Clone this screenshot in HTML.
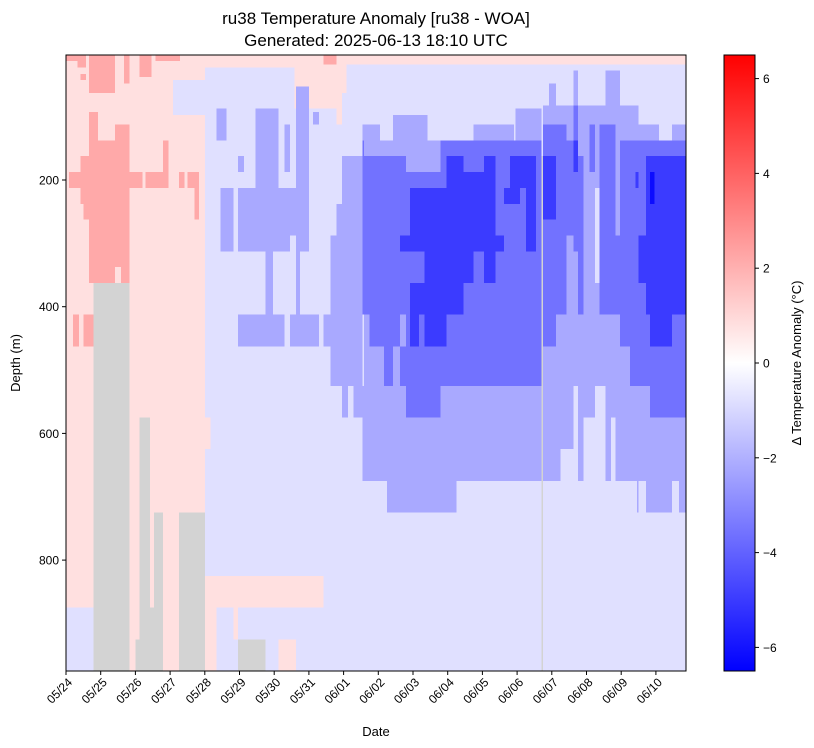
<!DOCTYPE html>
<html><head><meta charset="utf-8">
<style>
html,body{margin:0;padding:0;background:#fff;}
svg{display:block;font-family:"Liberation Sans","DejaVu Sans",sans-serif;}
</style></head>
<body>
<svg id="chart" width="814" height="748" viewBox="0 0 814 748">
<text x="376" y="24" text-anchor="middle" font-size="17">ru38 Temperature Anomaly [ru38 - WOA]</text>
<text x="376" y="46" text-anchor="middle" font-size="17">Generated: 2025-06-13 18:10 UTC</text>
<g id="cells"></g>
<rect x="66" y="55" width="620" height="616" fill="none" stroke="#000" stroke-width="1"/>
<g id="xaxis"></g>
<g id="yaxis"></g>
<text x="376" y="736" text-anchor="middle" font-size="13">Date</text>
<text transform="translate(20,363) rotate(-90)" text-anchor="middle" font-size="13">Depth (m)</text>
<defs><linearGradient id="bwr" x1="0" y1="1" x2="0" y2="0">
<stop offset="0" stop-color="#0000ff"/><stop offset="0.5" stop-color="#ffffff"/><stop offset="1" stop-color="#ff0000"/>
</linearGradient></defs>
<rect x="724" y="55" width="31" height="616" fill="url(#bwr)" stroke="#000" stroke-width="1"/>
<g id="cbar"></g>
<text transform="translate(801,363) rotate(-90)" text-anchor="middle" font-size="13">Δ Temperature Anomaly (°C)</text>
</svg>
<script>
// ---- data ----
const dateLabels = ["05/24","05/25","05/26","05/27","05/28","05/29","05/30","05/31","06/01","06/02","06/03","06/04","06/05","06/06","06/07","06/08","06/09","06/10"];
const depthTicks = [200,400,600,800];
const cbarTicks = [-6,-4,-2,0,2,4,6];
const depthLevels = [0,5,10,15,20,25,30,35,40,45,50,55,60,65,70,75,80,85,90,95,100,125,150,175,200,225,250,275,300,325,350,375,400,425,450,475,500,550,600,650,700,750,800,850,900,950,1000];
const baseValue = -0.8;
// patches: [dayStart, dayEnd, depthTop, depthBottom, anomaly] (null = no data)
const patches = [
[0,3.98,0,975,0.8],[0,0.79,880,975,-0.8],[0.79,1.84,375,975,null],
[0.68,0.91,95,375,2.2],[0.91,1.41,137.5,375,2.2],[1.41,1.84,112.5,375,2.2],[1.41,1.58,327,375,0.8],
[0.4,0.79,162.5,240,2.2],[0.5,0.79,240,262.5,2.2],[0.1,2.22,187.5,212.5,2.2],
[0.65,1.41,0,62.5,2.2],[0.32,0.6,0,25,2.2],[0.4,0.6,35,45,2.2],[1.65,1.84,0,50,2.2],[2.13,2.45,0,40,2.2],[2.6,3.3,0,12,2.2],[0,0.4,0,12,2.2],
[2.3,2.97,187.5,212.5,2.2],[2.79,2.97,137.5,212.5,2.2],[3.26,3.4,187.5,212.5,2.2],[3.52,3.83,187.5,212.5,2.2],[3.69,3.83,212.5,262.5,2.2],
[0.2,0.37,425,475,2.2],[0.48,0.79,425,475,2.2],
[2.0,2.56,925,975,null],[2.13,2.42,575,975,null],[2.42,2.56,875,975,null],[2.56,2.79,725,975,null],[3.26,3.98,725,975,null],
[3.1,3.98,45,100,-0.8],
[3.98,7.61,0,25,0.8],[6.6,7.95,25,87.5,0.8],[7.78,7.95,87.5,112.5,0.8],[7.4,7.95,0,20,2.2],[3.98,4.15,575,625,0.8],
[3.98,7.43,825,875,0.8],[3.98,4.32,875,975,0.8],[4.82,4.97,875,925,0.8],[4.97,5.76,925,975,null],[6.12,6.63,925,975,0.8],
[4.32,4.63,87.5,137.5,-2.2],[4.47,4.82,212.5,325,-2.2],[4.97,5.13,162.5,187.5,-2.2],[4.97,6.98,212.5,287.5,-2.2],
[4.97,6.46,287.5,325,-2.2],[6.63,6.98,287.5,325,-2.2],[5.45,6.12,87.5,212.5,-2.2],[5.76,5.97,325,425,-2.2],
[4.97,6.28,425,475,-2.2],[6.46,7.29,425,475,-2.2],[6.63,6.76,325,425,-2.2],[6.63,6.98,55,212.5,-2.2],
[6.28,6.46,112.5,187.5,-2.2],[7.13,7.29,95,112.5,-2.2],[7.43,7.78,425,475,-2.2],[7.61,8.55,287.5,525,-2.2],
[7.78,8.55,237.5,287.5,-2.2],[7.97,8.55,162.5,237.5,-2.2],[8.55,9.05,112.5,162.5,-2.2],[8.28,9.05,525,575,-2.2],
[8.55,9.05,575,675,-2.2],[7.97,8.11,525,575,-2.2],[8.55,9.05,137.5,425,-3.6],[8.74,9.05,425,475,-3.6],
[7.61,17.87,0,20,0.8],[7.61,8.09,20,62.5,0.8],[7.61,7.8,0,20,2.2],
[8.57,13.70,137.5,675,-2.2],[9.26,11.24,675,725,-2.2],
[12.95,13.70,87.5,137.5,-2.2],[9.4,10.4,100,137.5,-2.2],[11.74,12.9,112.5,137.5,-2.2],
[8.57,9.80,162.5,425,-3.6],[8.74,9.63,425,475,-3.6],[9.15,9.40,475,525,-3.6],[9.63,13.70,475,525,-3.6],
[9.80,10.79,525,575,-3.6],[9.80,10.79,187.5,475,-3.6],[10.79,13.70,137.5,475,-3.6],
[9.92,10.96,212.5,287.5,-5],[9.63,12.61,287.5,325,-5],[10.32,11.74,325,375,-5],[9.92,11.44,375,425,-5],
[10.32,10.96,425,475,-5],[9.92,10.15,425,475,-5],[10.96,11.44,162.5,287.5,-5],[11.44,11.74,187.5,287.5,-5],
[12.05,12.38,162.5,375,-5],[11.74,12.38,187.5,287.5,-5],[12.78,13.56,162.5,212.5,-5],[12.61,13.10,212.5,237.5,-5],
[13.26,13.56,212.5,325,-5],
[13.76,17.87,110,675,-2.2],[13.76,16.51,85,110,-2.2],[15.56,15.97,30,85,-2.2],[14.62,14.76,30,85,-2.2],[13.9,14.14,50,85,-2.2],
[14.25,14.62,625,675,-0.8],[14.62,14.76,525,675,-0.8],[14.91,15.25,575,675,-0.8],[15.25,15.56,525,675,-0.8],[15.71,15.85,575,675,-0.8],[15.25,15.39,212.5,375,-0.8],
[17.1,17.46,110,137.5,-0.8],
[16.44,16.51,675,725,-2.2],[16.69,17.46,675,725,-2.2],[17.67,17.87,675,725,-2.2],
[13.76,14.14,110,475,-3.6],[14.14,14.43,110,425,-3.6],[14.43,14.62,137.5,287.5,-3.6],[14.62,14.76,85,325,-3.6],[14.76,14.91,162.5,425,-3.6],
[15.08,15.25,110,187.5,-3.6],[15.39,15.85,110,425,-3.6],[15.85,15.97,287.5,425,-3.6],[15.97,16.25,137.5,475,-3.6],[16.25,16.69,137.5,525,-3.6],
[16.69,17.87,137.5,162.5,-3.6],[16.83,17.87,425,575,-3.6],[16.69,16.83,425,525,-3.6],
[13.76,14.14,162.5,262.5,-5],[14.62,14.76,137.5,187.5,-5],[16.40,16.51,187.5,212.5,-5],[16.51,16.69,287.5,375,-5],
[16.69,17.87,162.5,425,-5],[16.83,17.46,425,475,-5],[16.83,16.95,187.5,237.5,-6.2],
[13.70,13.76,162.5,975,null]
];
// ---- scales ----
const X0=66, X1=686, Y0=55, Y1=671;
const dayPx = 34.7;
function xScale(day){return X0 + day*dayPx;}
function yScale(d){return 53.3 + 0.6335*d;}
function cScale(v){return 363 - v*47.4;}
const vmin=-6.5, vmax=6.5;
function color(v){
  if(v===null) return "#d3d3d3";
  let t=(v-vmin)/(vmax-vmin); t=Math.max(0,Math.min(1,t));
  let r,g,b;
  if(t<0.5){r=g=Math.round(255*t*2);b=255;} else {r=255;g=b=Math.round(255*(1-t)*2);}
  return "rgb("+r+","+g+","+b+")";
}
const NS="http://www.w3.org/2000/svg";
function mk(tag,attrs,parent){const e=document.createElementNS(NS,tag);for(const k in attrs)e.setAttribute(k,attrs[k]);parent.appendChild(e);return e;}
// ---- build grid ----
const dt=1/24, maxDay=(X1-X0)/dayPx;
const nCols=Math.ceil(maxDay/dt);
const cells=document.getElementById("cells");
for(let c=0;c<nCols;c++){
  const t=(c+0.5)*dt;
  const col=[];
  for(let i=0;i<depthLevels.length;i++){
    const d=depthLevels[i];
    let v=baseValue;
    for(const p of patches){ if(t>=p[0]&&t<p[1]&&d>=p[2]&&d<p[3]) v=p[4]; }
    const top=i===0?0:(depthLevels[i-1]+d)/2;
    const bot=i===depthLevels.length-1?d:(d+depthLevels[i+1])/2;
    col.push([top,bot,v]);
  }
  let runs=[];
  for(const cc of col){
    const last=runs[runs.length-1];
    if(last&&last[2]===cc[2]) last[1]=cc[1]; else runs.push(cc.slice());
  }
  const xa=xScale(c*dt), xb=Math.min(X1,xScale((c+1)*dt));
  for(const r of runs){
    const ya=Math.max(Y0,yScale(r[0])), yb=Math.min(Y1,yScale(r[1]));
    if(yb<=ya) continue;
    const el=mk("rect",{x:xa.toFixed(2),y:ya.toFixed(2),width:(xb-xa+0.4).toFixed(2),height:(yb-ya+0.4).toFixed(2),fill:color(r[2]),"shape-rendering":"crispEdges"},cells);
    
    
  }
}
// ---- axes ----
const xa=document.getElementById("xaxis");
dateLabels.forEach((lab,i)=>{
  const x=xScale(i);
  const tk=mk("line",{x1:x,y1:Y1,x2:x,y2:Y1+4,stroke:"#000"},xa);
  
  
  const tx=mk("text",{transform:"translate("+(x+7)+","+(Y1+12)+") rotate(-45)","text-anchor":"end","font-size":"12"},xa);
  tx.textContent=lab;
  
  
});
const ya=document.getElementById("yaxis");
depthTicks.forEach(d=>{
  const y=yScale(d);
  const tk=mk("line",{x1:X0-4,y1:y,x2:X0,y2:y,stroke:"#000"},ya);
  
  
  const tx=mk("text",{x:X0-7,y:y+4.5,"text-anchor":"end","font-size":"12"},ya);
  tx.textContent=d;
  
  
});
const cb=document.getElementById("cbar");
cbarTicks.forEach(v=>{
  const y=cScale(v);
  const tk=mk("line",{x1:755,y1:y,x2:759,y2:y,stroke:"#000"},cb);
  
  
  const tx=mk("text",{x:763,y:y+4.5,"font-size":"12"},cb);
  tx.textContent=v<0?"\u2212"+Math.abs(v):String(v);
  
  
});
</script>
</body></html>
